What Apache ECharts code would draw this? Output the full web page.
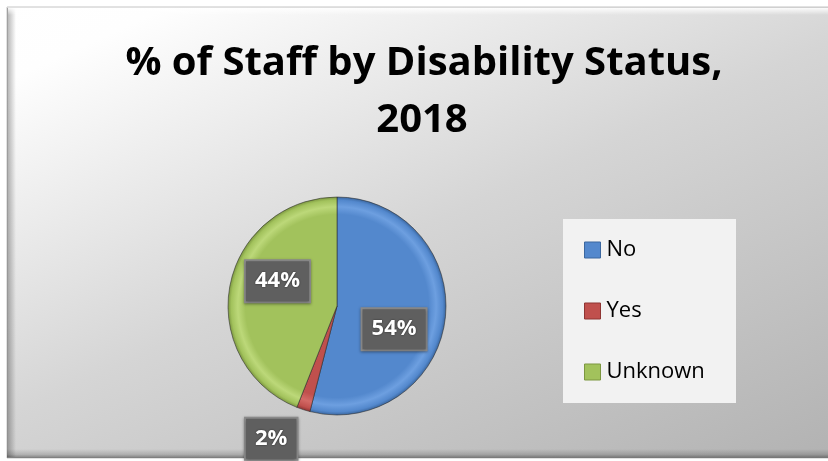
<!DOCTYPE html>
<html>
<head>
<meta charset="utf-8">
<script src="https://cdn.jsdelivr.net/npm/echarts@6/dist/echarts.min.js"></script>
<style>
  html, body { margin: 0; padding: 0; background: #ffffff; }
  #chart { width: 828px; height: 461px; }
</style>
</head>
<body>
<div id="chart"></div>
<script>
// Disability status breakdown of staff, 2018 (percent)
const categories = ['No', 'Yes', 'Unknown'];
const shares = [54, 2, 44];
const titleLines = ['% of Staff by Disability Status,', '2018'];

// slice palette: [body, rim highlight, outer edge]
const palette = {
  No: ['#5388cd', '#6d9fe0', '#3b679f'],
  Yes: ['#c0504d', '#d46a66', '#8e3533'],
  Unknown: ['#a2c25c', '#bcd879', '#7c9741']
};

const CX = 337, CY = 306, R = 109;

// nudges applied to the inside label boxes, per slice
const labelNudge = [[0, 16], [-48, 78], [-3, -14]];

function sliceFill(name) {
  const c = palette[name];
  return new echarts.graphic.RadialGradient(CX, CY, R, [
    { offset: 0, color: c[0] },
    { offset: 0.84, color: c[0] },
    { offset: 0.91, color: c[1] },
    { offset: 0.97, color: c[0] },
    { offset: 1, color: c[2] }
  ], true);
}

const chart = echarts.init(document.getElementById('chart'), null, { renderer: 'canvas' });

const bgFill = new echarts.graphic.LinearGradient(0, 0, 315, 694, [
  { offset: 0, color: '#ffffff' },
  { offset: 0.1, color: '#fefefe' },
  { offset: 0.5, color: '#d5d5d5' },
  { offset: 1, color: '#b2b2b2' }
], true);

const option = {
  animation: false,
  graphic: [
    { type: 'rect', z: -10, shape: { x: 0, y: 0, width: 828, height: 461 }, style: { fill: '#ffffff' } },
    { type: 'rect', z: -9, shape: { x: 7, y: 7, width: 830, height: 451 }, style: { fill: bgFill, stroke: '#c4c4c4', lineWidth: 1 } },
    // left bevel
    { type: 'rect', z: -8, shape: { x: 7, y: 8, width: 9, height: 449 },
      style: { fill: new echarts.graphic.LinearGradient(0, 0, 1, 0, [
        { offset: 0, color: 'rgba(0,0,0,0.3)' }, { offset: 1, color: 'rgba(0,0,0,0)' }]) } },
    // top highlight
    { type: 'rect', z: -8, shape: { x: 8, y: 8, width: 830, height: 7 },
      style: { fill: new echarts.graphic.LinearGradient(0, 0, 0, 1, [
        { offset: 0, color: 'rgba(255,255,255,0.9)' }, { offset: 1, color: 'rgba(255,255,255,0)' }]) } },
    // bottom bevel
    { type: 'rect', z: -8, shape: { x: 7, y: 449, width: 830, height: 9 },
      style: { fill: new echarts.graphic.LinearGradient(0, 0, 0, 1, [
        { offset: 0, color: 'rgba(0,0,0,0)' }, { offset: 0.6, color: 'rgba(0,0,0,0.15)' }, { offset: 1, color: 'rgba(0,0,0,0.4)' }]) } },
    // legend panel
    { type: 'rect', z: 1, shape: { x: 563, y: 219, width: 173, height: 184 }, style: { fill: '#f2f2f2' } },
    // title
    { type: 'text', z: 10, x: 424, y: 64,
      style: { text: titleLines[0], font: 'bold 40px "Open Sans"', fill: '#000000', align: 'center', verticalAlign: 'middle' } },
    { type: 'text', z: 10, x: 422, y: 121,
      style: { text: titleLines[1], font: 'bold 40px "Open Sans"', fill: '#000000', align: 'center', verticalAlign: 'middle' } }
  ],
  legend: {
    orient: 'vertical',
    left: 584,
    top: 239,
    padding: 0,
    itemWidth: 16,
    itemHeight: 16,
    itemGap: 39,
    icon: 'rect',
    selectedMode: false,
    textStyle: { fontFamily: 'Open Sans', fontSize: 22, color: '#000000', padding: [0, 0, 0, 1] },
    data: categories.map(name => ({
      name,
      itemStyle: { color: palette[name][0], borderColor: palette[name][2], borderWidth: 1 }
    }))
  },
  series: [{
    type: 'pie',
    center: [CX, CY],
    radius: [0, R],
    startAngle: 90,
    clockwise: true,
    avoidLabelOverlap: false,
    silent: true,
    itemStyle: { borderColor: 'rgba(40,40,40,0.55)', borderWidth: 1 },
    label: {
      show: true,
      position: 'inside',
      formatter: '{c}%',
      fontFamily: 'Open Sans',
      fontWeight: 'bold',
      fontSize: 22,
      color: '#ffffff',
      backgroundColor: '#5f5f5f',
      borderColor: '#8a8a8a',
      borderWidth: 2,
      padding: [9, 9, 9, 9],
      textShadowColor: 'rgba(0,0,0,0.6)',
      textShadowBlur: 2,
      shadowColor: 'rgba(0,0,0,0.4)',
      shadowBlur: 3,
      shadowOffsetY: 1
    },
    labelLine: { show: false },
    labelLayout: function (params) {
      const n = labelNudge[params.dataIndex];
      return { dx: n[0], dy: n[1] };
    },
    data: categories.map((name, i) => ({
      name,
      value: shares[i],
      itemStyle: { color: sliceFill(name) }
    }))
  }]
};

chart.setOption(option);
</script>
</body>
</html>
